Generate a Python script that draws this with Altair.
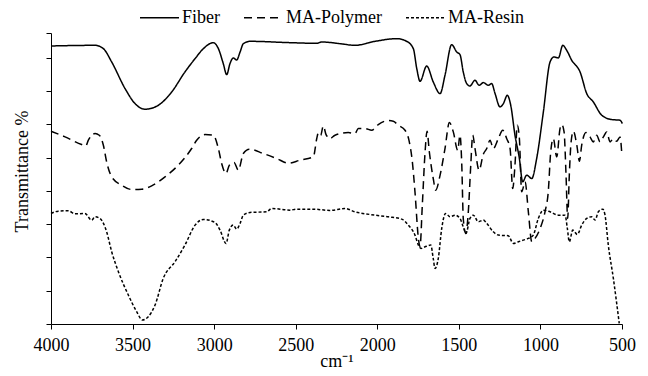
import altair as alt
import pandas as pd

# ---------------- data ----------------
fiber_wn = [4000, 3730, 3679, 3628, 3546, 3485, 3424, 3342, 3260, 3179, 3117, 3066, 3005, 2974,
            2944, 2923, 2903, 2883, 2862, 2841, 2821, 2780, 2535, 2371, 2341, 2228, 2137, 2014,
            1881, 1820, 1779, 1758, 1738, 1697, 1657, 1615, 1585, 1544, 1513, 1493, 1473, 1452,
            1432, 1401, 1376, 1350, 1319, 1299, 1278, 1248, 1227, 1203, 1182, 1156, 1129, 1109,
            1084, 1053, 1023, 982, 941, 917, 890, 863, 839, 808, 757, 716, 676, 624, 563, 512, 498]
fiber_t = [83.5, 83.7, 82.7, 78.7, 70.7, 66.2, 64.5, 65.7, 69.7, 75.7, 79.7, 82.7, 84.5, 82.7,
           78.2, 74.9, 78.2, 79.9, 79.3, 81.7, 84.2, 84.9, 84.5, 84.3, 84.7, 84.2, 83.7, 84.9,
           85.7, 84.9, 82.7, 76.7, 72.9, 77.5, 72.7, 69.2, 74.7, 83.9, 81.7, 80.9, 75.7, 72.2,
           71.5, 73.2, 71.7, 72.5, 71.7, 72.2, 69.2, 65.2, 66.2, 68.7, 65.7, 56.7, 49.7, 42.7,
           44.7, 43.7, 49.7, 63.7, 78.7, 80.2, 79.9, 83.7, 82.2, 79.2, 75.7, 69.2, 66.7, 62.7, 61.4, 61.2, 60.2]

polymer_wn = [4000, 3914, 3812, 3787, 3771, 3730, 3704, 3679, 3659, 3628, 3567, 3505, 3444, 3383,
              3301, 3220, 3138, 3107, 3056, 3005, 2974, 2954, 2927, 2907, 2878, 2852, 2821, 2784,
              2699, 2616, 2545, 2474, 2392, 2371, 2361, 2347, 2331, 2314, 2290, 2259, 2178, 2137,
              2116, 2075, 2034, 1994, 1932, 1902, 1871, 1830, 1806, 1785, 1769, 1748, 1738, 1724,
              1707, 1695, 1681, 1657, 1642, 1615, 1585, 1558, 1534, 1507, 1493, 1482, 1473, 1458,
              1442, 1427, 1415, 1401, 1376, 1350, 1329, 1309, 1289, 1258, 1231, 1207, 1186, 1170,
              1156, 1142, 1129, 1115, 1094, 1074, 1053, 1033, 1002, 972, 952, 937, 921, 900, 880,
              869, 855, 843, 833, 823, 812, 798, 777, 761, 747, 721, 696, 676, 655, 635, 614, 594,
              573, 553, 533, 512, 502]
polymer_t = [57.9, 56.2, 53.9, 53.5, 55.2, 57.2, 56.7, 53.7, 48.7, 44.2, 41.7, 40.4, 40.5, 41.5,
             44.2, 47.7, 52.7, 55.2, 56.9, 56.7, 52.7, 48.2, 45.2, 47.7, 48.5, 46.2, 51.2, 52.5,
             51.2, 49.7, 48.3, 49.2, 50.2, 55.7, 57.5, 56.7, 59.5, 56.9, 55.7, 56.7, 57.5, 57.2,
             58.7, 58.7, 58.2, 59.9, 61.1, 60.9, 59.7, 58.2, 55.2, 48.7, 39.7, 25.7, 23.2, 35.7,
             51.7, 57.9, 51.7, 43.7, 40.2, 44.7, 52.7, 60.5, 57.7, 52.2, 56.7, 47.7, 31.7, 27.2,
             33.7, 47.7, 56.7, 52.7, 46.2, 51.0, 52.7, 55.2, 52.7, 55.7, 58.2, 55.7, 52.7, 40.7,
             47.7, 59.7, 55.7, 39.7, 42.7, 33.7, 24.7, 25.7, 28.7, 33.7, 39.7, 51.7, 55.7, 50.2, 58.7,
             59.9, 57.7, 44.7, 31.7, 44.7, 54.7, 57.9, 53.7, 48.9, 53.7, 57.5, 56.2, 54.7, 56.7, 54.7, 56.2, 57.7,
             54.7, 55.7, 54.9, 56.2, 51.7]

resin_wn = [4000, 3955, 3894, 3853, 3792, 3751, 3730, 3700, 3659, 3628, 3587, 3526, 3475, 3440,
            3404, 3362, 3312, 3240, 3179, 3117, 3066, 2995, 2964, 2927, 2907, 2883, 2862, 2841,
            2821, 2780, 2678, 2647, 2535, 2494, 2392, 2290, 2198, 2137, 2014, 1932, 1850, 1810,
            1769, 1748, 1732, 1707, 1672, 1657, 1646, 1626, 1605, 1581, 1554, 1524, 1493, 1473,
            1456, 1432, 1411, 1381, 1350, 1329, 1289, 1258, 1197, 1166, 1135, 1105, 1074, 1044,
            1013, 982, 941, 890, 849, 835, 823, 802, 774, 747, 716, 686, 665, 645, 618, 604, 584, 553, 517]
resin_t = [33.2, 33.9, 34.0, 33.1, 33.2, 31.2, 32.2, 31.7, 27.7, 21.7, 15.7, 8.7, 3.7, 1.2,
           2.2, 5.7, 13.7, 18.7, 23.7, 29.7, 31.4, 30.5, 28.2, 24.2, 28.2, 29.7, 28.5, 30.2,
           32.7, 33.5, 33.7, 34.7, 34.2, 34.5, 34.5, 34.1, 34.7, 33.7, 32.7, 32.2, 31.5, 29.7,
           26.7, 23.7, 22.7, 23.2, 23.7, 19.7, 16.7, 19.7, 28.7, 33.2, 32.2, 32.7, 31.7, 29.2,
           27.2, 31.7, 32.7, 30.7, 31.2, 30.2, 27.7, 26.7, 26.5, 24.2, 24.7, 25.2, 25.7, 26.7,
           31.7, 34.2, 33.7, 32.7, 32.7, 28.7, 24.7, 28.2, 26.9, 29.7, 31.7, 32.2, 31.2, 33.7, 34.5, 32.7, 23.7, 13.7, 0.2]

series_names = ["Fiber", "MA-Polymer", "MA-Resin"]
x_ticks = [4000, 3500, 3000, 2500, 2000, 1500, 1000, 500]
y_ticks = [0, 10, 20, 30, 40, 50, 60, 70, 80, 87.4]

rows = []
for name, wns, ts in [("Fiber", fiber_wn, fiber_t),
                      ("MA-Polymer", polymer_wn, polymer_t),
                      ("MA-Resin", resin_wn, resin_t)]:
    for i, (w, t) in enumerate(zip(wns, ts)):
        rows.append({"series": name, "wn": w, "t": t, "i": i})
df = pd.DataFrame(rows)

FONT = "Liberation Serif"

chart = alt.Chart(df).mark_line(color="black", strokeWidth=1.5, interpolate="monotone").encode(
    x=alt.X("wn:Q",
            scale=alt.Scale(domain=[500, 4000], reverse=True, nice=False, zero=False),
            axis=alt.Axis(values=x_ticks, format="d", title="cm\u207b\u00b9", labelFlush=False,
                          titleY=42, titleBaseline="alphabetic", labelPadding=7)),
    y=alt.Y("t:Q",
            scale=alt.Scale(domain=[0, 87.4], nice=False, zero=False),
            axis=alt.Axis(values=y_ticks, labels=False, title="Transmittance %",
                          titleX=-24, titleY=138, titleBaseline="alphabetic")),
    strokeDash=alt.StrokeDash("series:N",
                              scale=alt.Scale(domain=series_names, range=[[1, 0], [8, 5], [3, 2]]),
                              legend=alt.Legend(orient="none", legendX=88, legendY=-36,
                                                direction="horizontal", title=None,
                                                symbolType="stroke", symbolSize=1521,
                                                symbolStrokeWidth=1.5, symbolStrokeColor="black",
                                                labelFont=FONT, labelFontSize=18, labelColor="black",
                                                labelOffset=2, columnPadding=21, padding=0)),
    order="i:Q",
).properties(
    width=571, height=291,
    autosize=alt.AutoSizeParams(type="none"),
    padding={"left": 51, "top": 33, "right": 26, "bottom": 52},
).configure_view(stroke=None).configure_axis(
    grid=False, domainColor="black", tickColor="black", tickSize=5,
    labelFont=FONT, labelFontSize=18, labelColor="black",
    titleFont=FONT, titleFontSize=18, titleFontWeight="normal", titleColor="black",
)

chart.save("out.html", embed_options={"renderer": "svg", "actions": False})
